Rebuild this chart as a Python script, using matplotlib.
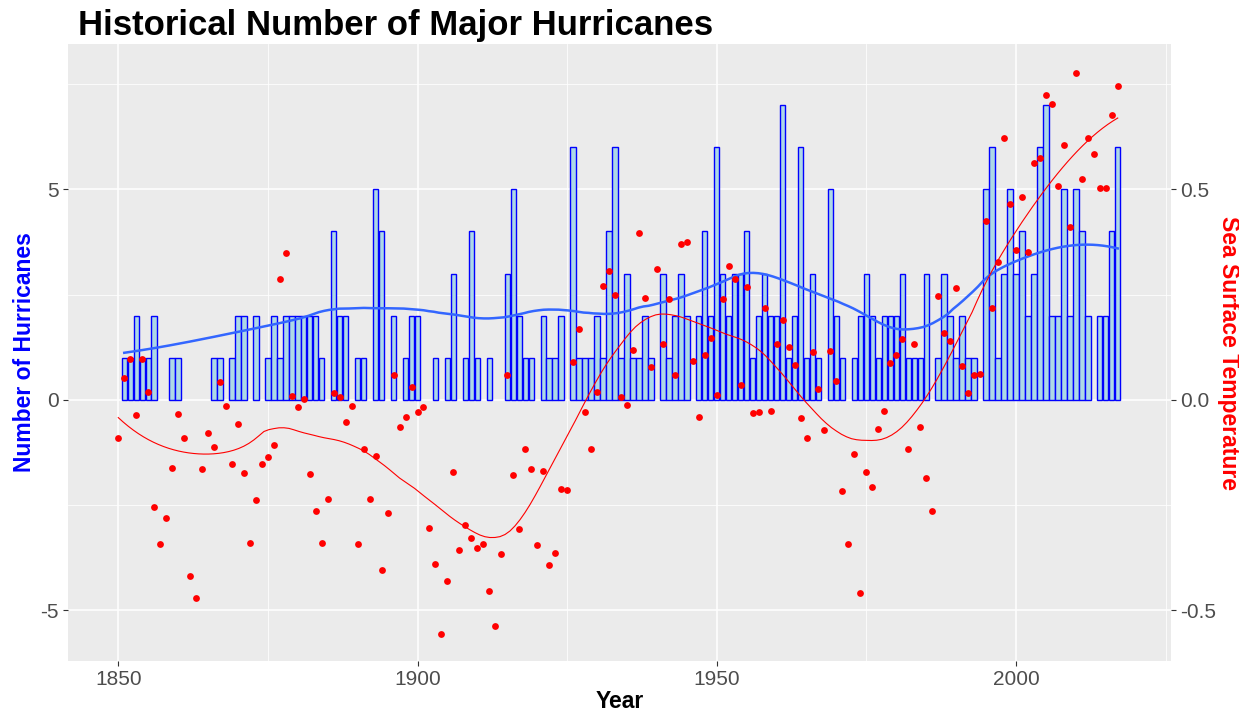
import numpy as np
import matplotlib
matplotlib.use("Agg")
import matplotlib.pyplot as plt

# -------------------------------
# Data
# -------------------------------

hurr_years = np.arange(1851, 2018)
hurricanes = [
    1, 1, 2, 1, 1, 2, 0, 0, 1, 1,          # 1851-1860
    0, 0, 0, 0, 0, 1, 1, 0, 1, 2,          # 1861-1870
    2, 0, 2, 0, 1, 2, 1, 2, 2, 2,          # 1871-1880
    2, 2, 2, 1, 0, 4, 2, 2, 0, 1,          # 1881-1890
    1, 0, 5, 4, 0, 2, 0, 1, 2, 2,          # 1891-1900
    0, 0, 1, 0, 1, 3, 0, 1, 4, 1,          # 1901-1910
    0, 1, 0, 0, 3, 5, 2, 1, 1, 0,          # 1911-1920
    2, 1, 1, 2, 0, 6, 1, 1, 1, 2,          # 1921-1930
    1, 4, 6, 1, 3, 1, 1, 2, 1, 0,          # 1931-1940
    3, 1, 2, 3, 2, 0, 2, 4, 2, 6,          # 1941-1950
    3, 2, 3, 3, 4, 1, 2, 3, 2, 2,          # 1951-1960
    7, 1, 2, 6, 1, 3, 1, 0, 5, 2,          # 1961-1970
    1, 0, 1, 2, 3, 2, 1, 2, 2, 2,          # 1971-1980
    3, 1, 1, 1, 3, 0, 1, 3, 2, 1,          # 1981-1990
    2, 1, 1, 0, 5, 6, 1, 3, 5, 3,          # 1991-2000
    4, 2, 3, 6, 7, 2, 2, 5, 2, 5,          # 2001-2010
    4, 2, 0, 2, 2, 4, 6,                   # 2011-2017
]

sst_years = np.arange(1850, 2018)
sst = [
    -0.091, 0.053, 0.098, -0.036, 0.096, 0.019, -0.254, -0.343, -0.280, -0.161,   # 1850-1859
    -0.034, -0.091, -0.418, -0.470, -0.164, -0.079, -0.111, 0.043, -0.014, -0.152,  # 1860-1869
    -0.057, -0.173, -0.339, -0.238, -0.152, -0.136, -0.108, 0.287, 0.348, 0.009,    # 1870-1879
    -0.016, 0.003, -0.175, -0.264, -0.339, -0.236, 0.016, 0.008, -0.052, -0.014,    # 1880-1889
    -0.342, -0.116, -0.236, -0.133, -0.403, -0.269, 0.059, -0.064, -0.041, 0.031,   # 1890-1899
    -0.029, -0.016, -0.304, -0.389, -0.555, -0.430, -0.171, -0.356, -0.297, -0.327, # 1900-1909
    -0.352, -0.343, -0.453, -0.538, -0.366, 0.060, -0.178, -0.307, -0.116, -0.164,  # 1910-1919
    -0.345, -0.168, -0.393, -0.364, -0.212, -0.214, 0.090, 0.168, -0.029, -0.116,   # 1920-1929
    0.019, 0.271, 0.306, 0.249, 0.007, -0.012, 0.119, 0.396, 0.242, 0.078,          # 1930-1939
    0.310, 0.132, 0.239, 0.058, 0.371, 0.375, 0.092, -0.041, 0.107, 0.147,          # 1940-1949
    0.012, 0.239, 0.319, 0.287, 0.036, 0.269, -0.031, -0.029, 0.218, -0.026,        # 1950-1959
    0.132, 0.190, 0.125, 0.083, -0.043, -0.091, 0.114, 0.025, -0.071, 0.116,        # 1960-1969
    0.046, -0.216, -0.342, -0.129, -0.458, -0.171, -0.208, -0.069, -0.026, 0.087,   # 1970-1979
    0.107, 0.144, -0.116, 0.132, -0.064, -0.186, -0.263, 0.247, 0.159, 0.140,       # 1980-1989
    0.266, 0.081, 0.016, 0.059, 0.061, 0.424, 0.219, 0.327, 0.621, 0.466,           # 1990-1999
    0.356, 0.481, 0.351, 0.562, 0.574, 0.724, 0.703, 0.508, 0.605, 0.410,           # 2000-2009
    0.775, 0.524, 0.621, 0.583, 0.503, 0.503, 0.676, 0.745,                         # 2010-2017
]

SCALE = 10  # sea surface temperature is drawn on the hurricane axis times 10


def loess(x, y, span, degree=2):
    # local weighted regression with tricube weights, like R's loess
    x = np.asarray(x, float)
    y = np.asarray(y, float)
    n = len(x)
    q = int(np.floor(span * n))
    xs = np.linspace(x.min(), x.max(), 200)
    ys = []
    for x0 in xs:
        d = np.abs(x - x0)
        h = np.sort(d)[q - 1]
        w = np.clip(1 - (d / h) ** 3, 0, None) ** 3
        X = np.vander(x - x0, degree + 1)
        W = np.sqrt(w)
        beta = np.linalg.lstsq(X * W[:, None], y * W, rcond=None)[0]
        ys.append(beta[-1])
    return xs, np.array(ys)


plt.rcParams['font.family'] = ['Liberation Sans', 'DejaVu Sans']
plt.rcParams['axes.unicode_minus'] = False

fig = plt.figure(figsize=(12.39, 7.11), dpi=100)
ax = fig.add_axes([68 / 1239, 1 - 661 / 711, (1171 - 68) / 1239, (661 - 44) / 711])
ax.set_facecolor('#EBEBEB')

# years without a major hurricane have no row in the counts: no bar, and no weight in the fit
h = np.array(hurricanes)
has = h > 0
ax.bar(hurr_years[has], h[has], width=0.9, color='#ADD8E6', edgecolor='#0000FF',
       linewidth=1.0, zorder=2)

bx, by = loess(hurr_years[has], h[has], span=0.33)
ax.plot(bx, by, color='#3366FF', linewidth=1.8, zorder=3)

sst_scaled = np.array(sst) * SCALE
ax.scatter(sst_years, sst_scaled, s=24, color='red', linewidths=0, zorder=4)
rx, ry = loess(sst_years, sst_scaled, span=0.3)
ax.plot(rx, ry, color='red', linewidth=0.8, zorder=4)

ax.set_xticks([1850, 1900, 1950, 2000])
ax.set_xticks([1875, 1925, 1975, 2025], minor=True)
ax.set_yticks([-5, 0, 5])
ax.set_yticks([-2.5, 2.5, 7.5], minor=True)
ax.set_xlim(1841.6, 2025.9)
ax.set_ylim(-6.2, 8.45)
ax.grid(which='major', color='white', linewidth=1.1, zorder=0)
ax.grid(which='minor', color='white', linewidth=0.55, zorder=0)
ax.set_axisbelow(True)
for s in ax.spines.values():
    s.set_visible(False)
ax.tick_params(which='major', length=3.5, width=0.8, color='#333333',
               labelsize=15, labelcolor='#4D4D4D', pad=3)
ax.tick_params(which='minor', length=0)

sec = ax.secondary_yaxis('right', functions=(lambda v: v / SCALE, lambda v: v * SCALE))
sec.set_yticks([-0.5, 0.0, 0.5])
sec.set_yticklabels(['-0.5', '0.0', '0.5'])
for s in sec.spines.values():
    s.set_visible(False)
sec.tick_params(length=3.5, width=0.8, color='#333333', labelsize=15,
                labelcolor='#4D4D4D', pad=3)
sec.set_ylabel('Sea Surface Temperature', color='red', fontsize=16.5,
               fontweight='bold', rotation=270, labelpad=17)

ax.set_xlabel('Year', fontsize=16.5, fontweight='bold', labelpad=1)
ax.set_ylabel('Number of Hurricanes', color='blue', fontsize=16.5,
              fontweight='bold', labelpad=3)
fig.text(78 / 1239, 1 - 26 / 711, 'Historical Number of Major Hurricanes',
         fontsize=25, fontweight='bold', va='center', ha='left')

fig.savefig('out.png', dpi=100)
